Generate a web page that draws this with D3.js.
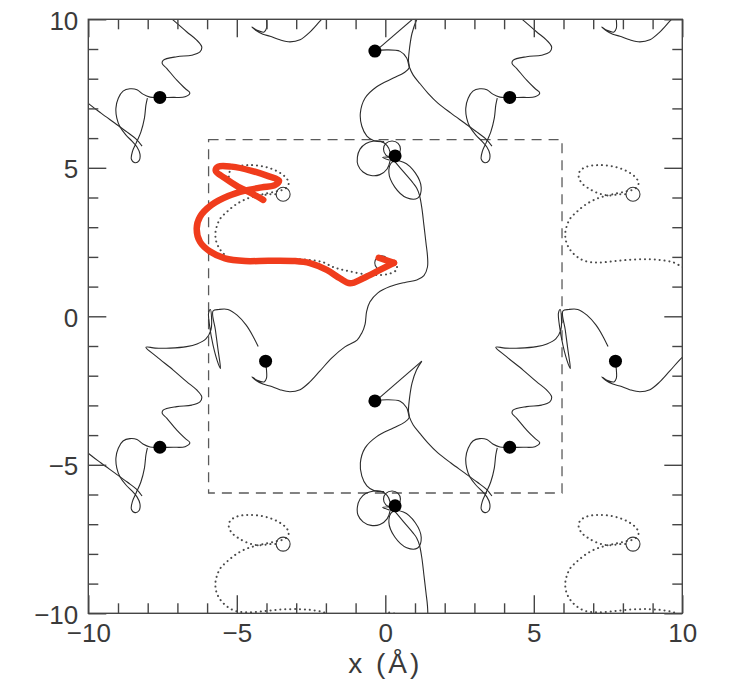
<!DOCTYPE html>
<html>
<head>
<meta charset="utf-8">
<script src="https://cdn.jsdelivr.net/npm/d3@7"></script>
<style>
  body { margin: 0; background: #fff; }
  svg { display: block; }
</style>
</head>
<body>
<svg id="chart" width="738" height="679"></svg>
<script>
// ---- tick values -------------------------------------------------------
const majorTicks = [-10, -5, 0, 5, 10];
const minorTicks = [-9, -8, -7, -6, -4, -3, -2, -1, 1, 2, 3, 4, 6, 7, 8, 9];

// ---- periodic cell ------------------------------------------------------
const cellPeriod = 11.78;          // repeat length of the simulation cell (Å)
const cellHalf = 5.95;             // half-width of the dashed reference cell
const imageShifts = [[-1,-1],[-1,0],[-1,1],[0,-1],[0,0],[0,1],[1,-1],[1,0],[1,1]];

// ---- trajectories (x, y in Å), one periodic image each ------------------
// zig-zag track with its figure-eight loop
const trackZ = [[-4.28,-1.02],[-4.46,-0.66],[-4.69,-0.29],[-4.99,0.04],[-5.30,0.23],[-5.60,0.23],
  [-5.80,0.18],[-5.72,-0.46],[-5.63,-1.14],[-5.55,-1.76],[-5.62,-1.61],[-5.80,-0.97],[-5.92,-0.29],
  [-5.95,0.11],[-5.89,0.23],[-5.85,-0.06],[-5.87,-0.46],[-6.04,-0.76],[-6.34,-0.93],[-6.69,-1.02],
  [-7.25,-1.07],[-7.75,-1.07],[-8.06,-1.04],[-7.70,-1.36],[-7.14,-1.81],[-6.69,-2.20],[-6.35,-2.48],
  [-6.18,-2.71],[-6.24,-2.88],[-6.52,-2.99],[-7.02,-3.04],[-7.48,-3.16],[-7.51,-3.27],[-7.36,-3.43],
  [-7.02,-3.83],[-6.74,-4.11],[-6.58,-4.26],[-6.74,-4.39],[-7.14,-4.41],[-7.59,-4.41],[-7.92,-4.40],
  [-8.16,-4.30],[-8.36,-4.15],[-8.60,-4.12],[-8.83,-4.20],[-8.99,-4.44],[-9.07,-4.77],[-9.04,-5.11],
  [-8.93,-5.41],[-8.73,-5.68],[-8.53,-5.88],[-8.36,-6.08],[-8.26,-6.32],[-8.29,-6.54],[-8.43,-6.61],
  [-8.55,-6.49],[-8.51,-6.22],[-8.39,-5.95],[-8.23,-5.58],[-8.11,-5.11],[-8.06,-4.67],[-8.01,-4.43]];

// S-shaped track rising to the spike tip
const trackB1 = [[-0.04,-5.90],[-0.38,-5.87],[-0.62,-5.71],[-0.79,-5.38],[-0.84,-4.94],[-0.68,-4.43],
  [-0.29,-4.05],[0.27,-3.76],[0.63,-3.58],[0.80,-3.42],[0.78,-3.16],[0.82,-2.72],[0.90,-2.25],
  [1.05,-1.81],[1.23,-1.51]];
// straight jump from the spike tip back to the atom
const trackB2 = [[1.23,-1.51],[-0.23,-2.77]];
// from the atom down towards the neighbouring loop
const trackB3 = [[-0.35,-2.85],[0.05,-2.81],[0.50,-2.86],[0.72,-3.08],[0.80,-3.36],[0.94,-3.66],
  [1.17,-3.95],[1.44,-4.27],[1.77,-4.60],[2.21,-4.94],[2.68,-5.28],[3.09,-5.58],[3.40,-5.82],[3.59,-6.05]];

// long track climbing to the knot of loops
const trackC = [[-4.03,-1.51],[-4.00,-1.81],[-4.00,-2.08],[-4.08,-2.21],[-4.32,-2.15],[-4.49,-2.04],
  [-4.35,-2.16],[-4.12,-2.28],[-3.88,-2.35],[-3.55,-2.47],[-3.21,-2.54],[-2.87,-2.47],[-2.54,-2.21],
  [-2.20,-1.84],[-1.80,-1.40],[-1.36,-1.03],[-0.95,-0.80],[-0.79,-0.56],[-0.68,-0.26],[-0.63,0.16],
  [-0.52,0.48],[-0.25,0.79],[0.16,1.00],[0.66,1.14],[1.06,1.22],[1.30,1.37],[1.42,1.66],[1.42,2.03],
  [1.37,2.47],[1.30,3.07],[1.23,3.65],[1.15,4.08],[1.06,4.31],[0.94,4.48],[0.61,4.87],[0.33,5.20]];

// closed loops of the knot
const loopBig = [[-0.15,5.89],[0.06,5.75],[0.16,5.53],[0.16,5.23],[0.06,4.96],[-0.18,4.77],[-0.48,4.74],
  [-0.75,4.86],[-0.92,5.09],[-0.94,5.36],[-0.85,5.63],[-0.65,5.82],[-0.38,5.90]];
const loopSmall = [[0.23,5.90],[0.43,5.82],[0.51,5.63],[0.43,5.43],[0.23,5.35],[0.02,5.43],[-0.06,5.63],[0.02,5.82]];
const loopOval = [[1.09,3.98],[0.72,3.99],[0.32,4.35],[0.12,4.85],[0.24,5.20],[0.61,5.19],[1.01,4.83],[1.21,4.33]];
const loopHook = [[0.16,5.36],[-0.09,5.35],[0.13,5.26]];

// dotted track of the second species
const trackDotted = [[0.13,1.81],[0.36,1.74],[0.39,1.58],[0.16,1.44],[-0.25,1.39],[-0.72,1.42],
  [-1.19,1.51],[-1.53,1.59],[-1.79,1.67],[-2.07,1.81],[-2.47,1.89],[-2.92,1.92],[-3.48,1.91],
  [-4.04,1.86],[-4.60,1.81],[-5.05,1.86],[-5.33,2.01],[-5.55,2.23],[-5.69,2.51],[-5.72,2.80],
  [-5.66,3.07],[-5.55,3.30],[-5.33,3.52],[-5.05,3.75],[-4.71,3.94],[-4.37,4.05],[-3.98,4.14],
  [-3.64,4.21],[-3.36,4.30],[-3.25,4.48],[-3.33,4.65],[-3.53,4.82],[-3.87,4.98],[-4.26,5.07],
  [-4.65,5.09],[-4.99,5.04],[-5.22,4.90],[-5.27,4.70],[-5.16,4.48],[-4.94,4.31],[-4.60,4.14],
  [-4.26,4.07],[-3.87,4.11],[-3.68,4.11]];

// atom positions
const filledAtoms = [[-7.59,-4.41],[-0.35,-2.85],[-4.03,-1.51],[0.33,5.40]];
const openAtoms = [[-3.44,4.11],[-0.12,1.80]];

// hand-drawn highlight over the dotted track, with its arrow barb
const highlight = [[-4.11,3.92],[-4.50,4.14],[-4.95,4.36],[-5.40,4.65],[-5.71,4.90],[-5.62,5.04],
  [-5.17,5.04],[-4.50,4.90],[-3.94,4.72],[-3.58,4.57],[-3.71,4.42],[-4.16,4.34],[-4.72,4.23],
  [-5.29,4.05],[-5.85,3.75],[-6.24,3.35],[-6.35,2.96],[-6.24,2.51],[-5.90,2.18],[-5.40,1.95],
  [-4.72,1.86],[-3.94,1.87],[-3.04,1.86],[-2.54,1.79],[-1.97,1.56],[-1.53,1.28],[-1.19,1.11],
  [-0.74,1.28],[-0.18,1.56],[0.29,1.80]];
const highlightBarb = [[-0.22,1.97],[0.29,1.80]];

// ---- drawing -----------------------------------------------------------
const svg = d3.select("#chart");
const x = d3.scaleLinear().domain([-10, 10]).range([88.3, 682.3]);
const y = d3.scaleLinear().domain([-10, 10]).range([613.3, 19.3]);

svg.append("defs").append("clipPath").attr("id", "plotClip")
  .append("rect")
  .attr("x", x(-10)).attr("y", y(10))
  .attr("width", x(10) - x(-10)).attr("height", y(-10) - y(10));

const plot = svg.append("g").attr("clip-path", "url(#plotClip)");

// dashed simulation cell
plot.append("rect")
  .attr("x", x(-cellHalf)).attr("y", y(cellHalf))
  .attr("width", x(cellHalf) - x(-cellHalf)).attr("height", y(-cellHalf) - y(cellHalf))
  .attr("fill", "none").attr("stroke", "#5a5a5a").attr("stroke-width", 1.3)
  .attr("stroke-dasharray", "10,7");

function lineFor(dx, dy, curve) {
  return d3.line()
    .x(d => x(d[0] + dx * cellPeriod))
    .y(d => y(d[1] + dy * cellPeriod))
    .curve(curve);
}

const openCurve = d3.curveCatmullRom.alpha(0.5);
const closedCurve = d3.curveCatmullRomClosed.alpha(0.5);

const solidTracks = [
  { pts: trackZ, curve: openCurve },
  { pts: trackB1, curve: openCurve },
  { pts: trackB2, curve: d3.curveLinear },
  { pts: trackB3, curve: openCurve },
  { pts: trackC, curve: openCurve },
  { pts: loopBig, curve: closedCurve },
  { pts: loopSmall, curve: closedCurve },
  { pts: loopOval, curve: closedCurve },
  { pts: loopHook, curve: openCurve }
];

// an atom symbol is only plotted when it lies wholly inside the frame
function insideFrame(px, py, r) {
  return px - r >= x(-10) && px + r <= x(10) && py - r >= y(10) && py + r <= y(-10);
}

imageShifts.forEach(([dx, dy]) => {
  const img = plot.append("g");
  img.append("path")
    .attr("d", lineFor(dx, dy, openCurve)(trackDotted))
    .attr("fill", "none").attr("stroke", "#4a4a4a").attr("stroke-width", 2)
    .attr("stroke-linecap", "round").attr("stroke-dasharray", "0.1,4.8");
  solidTracks.forEach(t => {
    img.append("path")
      .attr("d", lineFor(dx, dy, t.curve)(t.pts))
      .attr("fill", "none").attr("stroke", "#2b2b2b").attr("stroke-width", 1.1)
      .attr("stroke-linejoin", "round");
  });
  const place = d => [x(d[0] + dx * cellPeriod), y(d[1] + dy * cellPeriod)];
  img.selectAll("circle.filled")
    .data(filledAtoms.map(place).filter(p => insideFrame(p[0], p[1], 6.5)))
    .join("circle").attr("class", "filled")
    .attr("cx", p => p[0]).attr("cy", p => p[1])
    .attr("r", 6.5).attr("fill", "#000");
  img.selectAll("circle.open")
    .data(openAtoms.map(place).filter(p => insideFrame(p[0], p[1], 7)))
    .join("circle").attr("class", "open")
    .attr("cx", p => p[0]).attr("cy", p => p[1])
    .attr("r", 7).attr("fill", "none").attr("stroke", "#3a3a3a").attr("stroke-width", 1.1);
});

// red highlight stroke
[highlight, highlightBarb].forEach(pts => {
  svg.append("path")
    .attr("d", lineFor(0, 0, pts.length > 2 ? openCurve : d3.curveLinear)(pts))
    .attr("fill", "none").attr("stroke", "#f03c1c").attr("stroke-width", 6.5)
    .attr("stroke-linecap", "round").attr("stroke-linejoin", "round");
});

// ---- frame and ticks ---------------------------------------------------
const axisColor = "#454545";
function styleAxis(g) {
  g.select(".domain").remove();
  g.selectAll("line").attr("stroke", axisColor).attr("stroke-width", 1.4);
  g.selectAll("text")
    .attr("font-family", "'Liberation Sans', Arial, sans-serif")
    .attr("font-size", 26).attr("fill", "#3a3a3a");
}

const axes = [
  { gen: d3.axisBottom(x), tr: `translate(0,${y(-10)})`, labels: true, dy: null },
  { gen: d3.axisTop(x), tr: `translate(0,${y(10)})`, labels: false, dy: null },
  { gen: d3.axisLeft(y), tr: `translate(${x(-10)},0)`, labels: true, dy: "0.38em" },
  { gen: d3.axisRight(y), tr: `translate(${x(10)},0)`, labels: false, dy: null }
];
axes.forEach(a => {
  svg.append("g").attr("transform", a.tr)
    .call(a.gen.tickValues(minorTicks).tickSize(-10).tickSizeOuter(0).tickFormat(""))
    .call(styleAxis);
  const g = svg.append("g").attr("transform", a.tr)
    .call(a.gen.tickValues(majorTicks).tickSize(-18).tickSizeOuter(0).tickPadding(10)
      .tickFormat(a.labels ? d3.format("d") : ""))
    .call(styleAxis);
  if (a.dy) g.selectAll("text").attr("dy", a.dy);
});

svg.append("rect")
  .attr("x", x(-10)).attr("y", y(10))
  .attr("width", x(10) - x(-10)).attr("height", y(-10) - y(10))
  .attr("fill", "none").attr("stroke", axisColor).attr("stroke-width", 1.4);

svg.append("text")
  .attr("x", x(0)).attr("y", 673)
  .attr("text-anchor", "middle")
  .attr("font-family", "'Liberation Sans', Arial, sans-serif")
  .attr("font-size", 28).attr("letter-spacing", 3).attr("fill", "#3a3a3a")
  .text("x (Å)");
</script>
</body>
</html>
